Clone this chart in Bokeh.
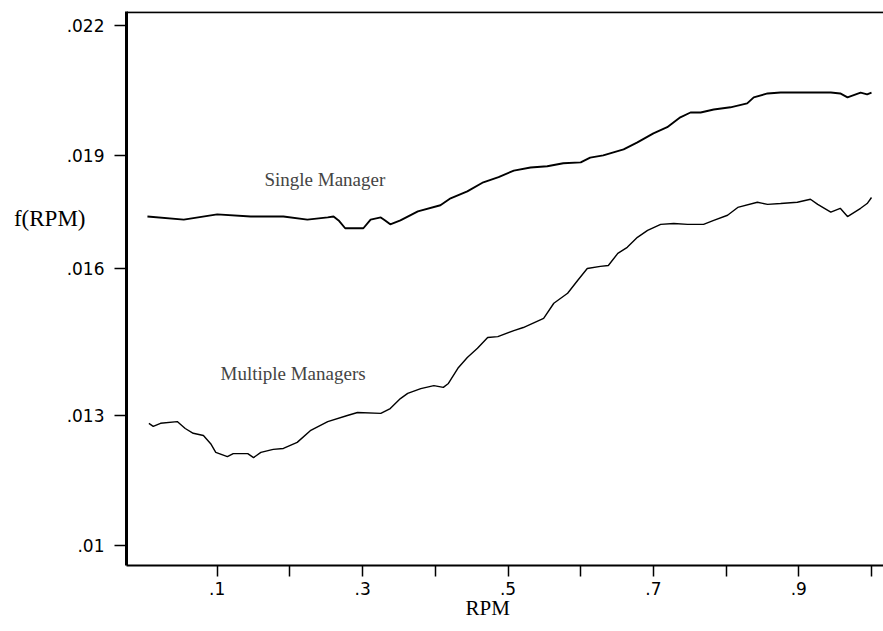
from bokeh.plotting import figure
from bokeh.models import Label, Span, FixedTicker, LinearAxis
from bokeh.embed import file_html
from bokeh.resources import INLINE

# ---- data ----
single_x = [0.004, 0.054, 0.100, 0.146, 0.191, 0.224, 0.252, 0.260, 0.267, 0.276,
            0.301, 0.311, 0.325, 0.331, 0.338, 0.352, 0.376, 0.407, 0.421, 0.444,
            0.466, 0.487, 0.508, 0.531, 0.554, 0.576, 0.600, 0.613, 0.631, 0.659,
            0.678, 0.700, 0.719, 0.737, 0.751, 0.765, 0.783, 0.806, 0.829, 0.838,
            0.857, 0.875, 0.898, 0.920, 0.944, 0.957, 0.967, 0.985, 0.994, 1.000]
single_y = [0.01759, 0.01752, 0.01764, 0.01759, 0.01759, 0.01752, 0.01757, 0.01759, 0.01750, 0.01732,
            0.01732, 0.01752, 0.01757, 0.01750, 0.01741, 0.01750, 0.01771, 0.01785, 0.01801, 0.01817,
            0.01838, 0.01850, 0.01865, 0.01872, 0.01875, 0.01882, 0.01884, 0.01895, 0.01900, 0.01914,
            0.01930, 0.01951, 0.01965, 0.01988, 0.01999, 0.01999, 0.02006, 0.02011, 0.02020, 0.02034,
            0.02043, 0.02045, 0.02045, 0.02045, 0.02045, 0.02043, 0.02034, 0.02045, 0.02041, 0.02045]

multi_x = [0.006, 0.012, 0.022, 0.045, 0.056, 0.067, 0.081, 0.091, 0.098, 0.114,
           0.122, 0.142, 0.150, 0.160, 0.177, 0.191, 0.210, 0.228, 0.252, 0.279,
           0.293, 0.325, 0.338, 0.352, 0.362, 0.380, 0.398, 0.411, 0.418, 0.431,
           0.444, 0.458, 0.472, 0.486, 0.508, 0.521, 0.549, 0.563, 0.582, 0.596,
           0.609, 0.627, 0.638, 0.651, 0.664, 0.678, 0.692, 0.710, 0.728, 0.747,
           0.769, 0.783, 0.802, 0.816, 0.843, 0.857, 0.875, 0.898, 0.916, 0.926,
           0.944, 0.957, 0.967, 0.985, 0.994, 1.000]
multi_y = [0.01282, 0.01275, 0.01282, 0.01286, 0.01270, 0.01259, 0.01254, 0.01235, 0.01215, 0.01205,
           0.01212, 0.01212, 0.01203, 0.01215, 0.01222, 0.01224, 0.01238, 0.01265, 0.01286, 0.01300,
           0.01307, 0.01305, 0.01316, 0.01339, 0.01351, 0.01362, 0.01369, 0.01365, 0.01374, 0.01409,
           0.01434, 0.01455, 0.01480, 0.01482, 0.01496, 0.01503, 0.01524, 0.01559, 0.01582, 0.01612,
           0.01639, 0.01644, 0.01646, 0.01674, 0.01688, 0.01711, 0.01727, 0.01741, 0.01743, 0.01741,
           0.01741, 0.01750, 0.01762, 0.01780, 0.01792, 0.01787, 0.01789, 0.01792, 0.01799, 0.01787,
           0.01769, 0.01778, 0.01759, 0.01778, 0.01789, 0.01803]

xtick_values = [0.1, 0.2, 0.3, 0.4, 0.5, 0.6, 0.7, 0.8, 0.9, 1.0]
xtick_labels = [".1", "", ".3", "", ".5", "", ".7", "", ".9", ""]
ytick_values = [0.010, 0.013, 0.0164, 0.019, 0.022]
ytick_labels = [".01", ".013", ".016", ".019", ".022"]

x_title = "RPM"
y_title = "f(RPM)"
x_title_pos = 0.472
y_title_pos = 0.01755

x_lo, x_hi = -0.0248, 1.0165
y_lo, y_hi = 0.00954, 0.02232

p = figure(width=883, height=631, x_range=(x_lo, x_hi), y_range=(y_lo, y_hi),
           output_backend="svg", toolbar_location=None,
           min_border_left=126, min_border_right=0, min_border_top=11, min_border_bottom=66)
p.outline_line_color = None
p.xgrid.visible = False
p.ygrid.visible = False
p.background_fill_color = "white"
p.border_fill_color = "white"

p.line(single_x, single_y, line_color="black", line_width=1.9)
p.line(multi_x, multi_y, line_color="black", line_width=1.4)

tick_font = "DejaVu Sans"
for ax in (p.xaxis[0], p.yaxis[0]):
    ax.axis_line_color = "black"
    ax.major_tick_line_color = "black"
    ax.major_tick_line_width = 1.5
    ax.minor_tick_line_color = None
    ax.major_tick_in = 0
    ax.major_label_text_font = tick_font
    ax.major_label_text_font_size = "17px"
    ax.major_label_text_color = "black"

p.xaxis[0].ticker = FixedTicker(ticks=xtick_values)
p.xaxis[0].major_label_overrides = dict(zip(xtick_values, xtick_labels))
p.xaxis[0].axis_line_width = 2
p.xaxis[0].major_tick_out = 11
p.xaxis[0].major_label_standoff = 5

p.yaxis[0].ticker = FixedTicker(ticks=ytick_values)
p.yaxis[0].major_label_overrides = dict(zip(ytick_values, ytick_labels))
p.yaxis[0].axis_line_width = 3
p.yaxis[0].major_tick_out = 12
p.yaxis[0].major_label_standoff = 10

serif = "Liberation Serif"

# axis-title "axes": one labelled position each, no line or tick
ytitle_axis = LinearAxis(ticker=FixedTicker(ticks=[y_title_pos]),
                         major_label_overrides={y_title_pos: y_title},
                         axis_line_color=None, major_tick_line_color=None,
                         minor_tick_line_color=None, major_tick_out=0, major_tick_in=0,
                         major_label_standoff=-22, major_label_text_font=serif,
                         major_label_text_font_size="23px", major_label_text_color="black")
p.add_layout(ytitle_axis, "left")

xtitle_axis = LinearAxis(ticker=FixedTicker(ticks=[x_title_pos]),
                         major_label_overrides={x_title_pos: x_title},
                         axis_line_color=None, major_tick_line_color=None,
                         minor_tick_line_color=None, major_tick_out=0, major_tick_in=0,
                         major_label_standoff=-2, major_label_text_font=serif,
                         major_label_text_font_size="21px", major_label_text_color="black")
p.add_layout(xtitle_axis, "below")

# top frame line
p.add_layout(Span(location=y_hi - 0.00002, dimension="width", line_color="black", line_width=2))

p.add_layout(Label(x=0.165, y=0.018446, text="Single Manager", text_font=serif,
                   text_font_size="19px", text_baseline="middle", text_align="left"))
p.add_layout(Label(x=0.1045, y=0.013969, text="Multiple Managers", text_font=serif,
                   text_font_size="19px", text_baseline="middle", text_align="left"))

open("out.html", "w").write(file_html(p, INLINE))
